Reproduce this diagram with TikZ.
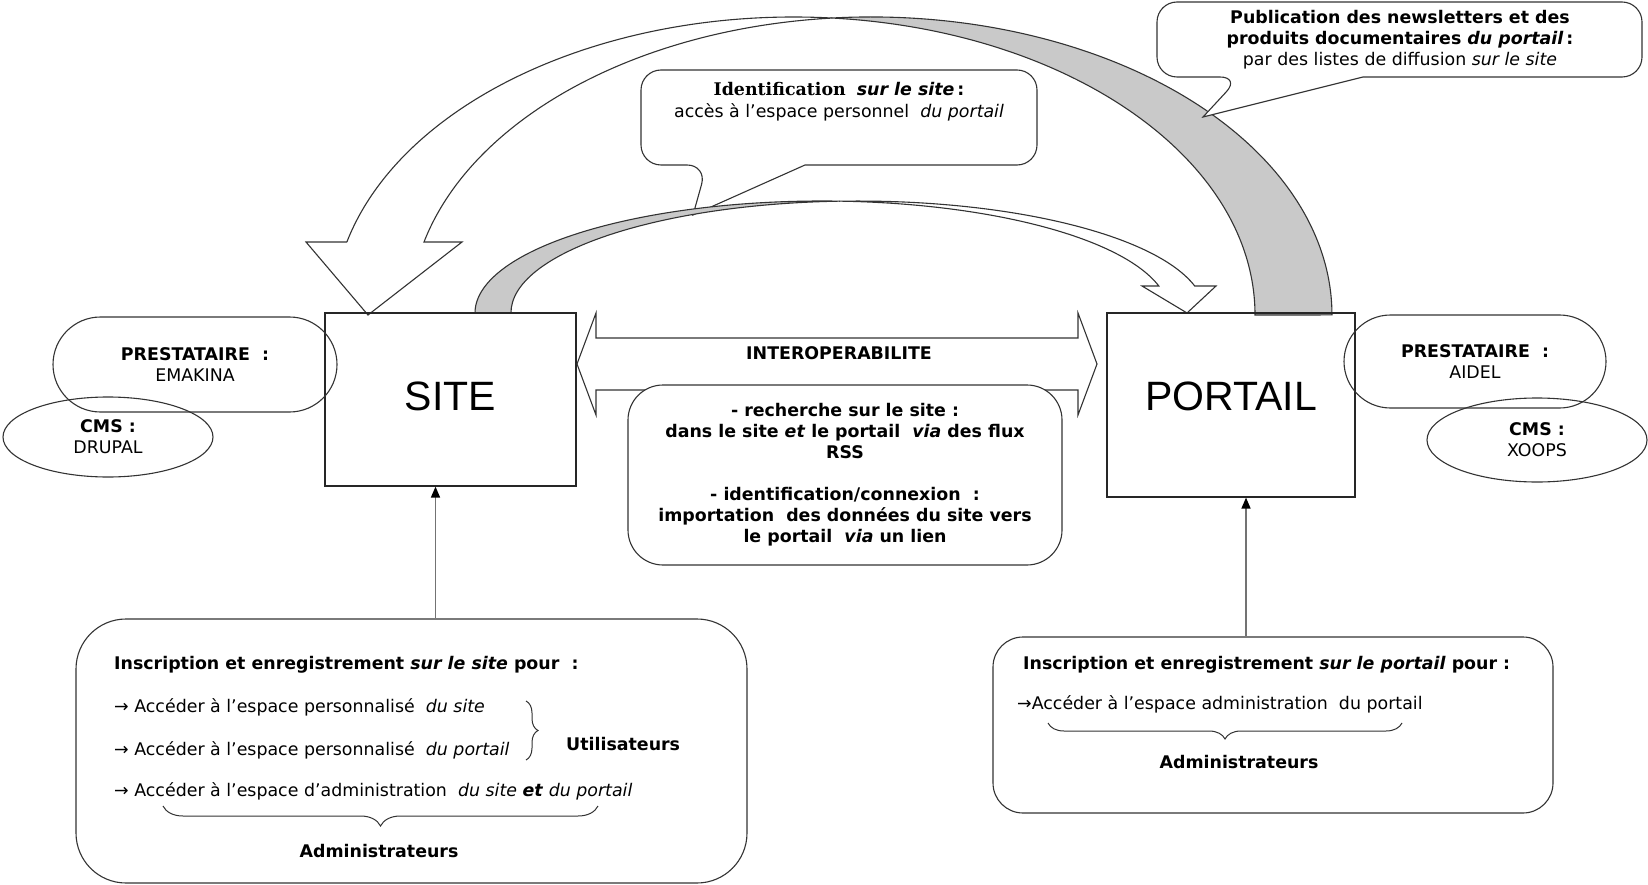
\documentclass[tikz,border=0pt]{standalone}
\usepackage{fontspec}
\setmainfont{DejaVu Sans}
\newfontfamily\arialfont{Liberation Sans}
\newfontfamily\seriffont{DejaVu Serif}
\usetikzlibrary{arrows.meta,shapes.misc,shapes.geometric,decorations.pathreplacing,calc}
\tikzset{
    every node/.style={inner sep=0pt},
    txt/.style={font=\fontsize{17.4}{21}\selectfont},
    btxt/.style={font=\fontsize{17.4}{21}\selectfont\bfseries},
    bigtxt/.style={font=\fontsize{41}{41}\selectfont\arialfont},
    box/.style={draw=black!85,line width=1.2pt},
    oval/.style={draw=black!80,line width=1.1pt,ellipse},
    pill/.style={draw=black!80,line width=1.1pt,rounded rectangle},
    infobox/.style={draw=black!80,line width=1.1pt,fill=white,rounded corners=#1},
    band/.style={draw=black!80,line width=1.1pt,fill=white},
    backband/.style={draw=black!80,line width=1.1pt,fill=black!21},
    callout/.style={draw=black!80,line width=1.1pt,fill=white},
    conn/.style={-{Triangle[length=11pt,width=9pt,color=black]},draw=black!55,line width=1.6pt},
    curly/.style={draw=black!80,line width=1pt,decorate,decoration={brace,amplitude=#1}},
}
\begin{document}
\begin{tikzpicture}[x=1pt,y=-1pt]
    \useasboundingbox (0,0) rectangle (1648,885);

    % big curved arrow: portail -> site
    \path[backband] (832.4,18) arc[start angle=94.8,end angle=0,x radius=461pt,y radius=298pt]
        -- (1255,315) arc[start angle=0,end angle=85.2,x radius=461pt,y radius=298pt] -- cycle;
    \path[band] (347,242) -- (306,242) -- (368,315) -- (462,242) -- (424,242)
        arc[start angle=165.82,end angle=94.8,x radius=461pt,y radius=298pt]
        arc[start angle=85.2,end angle=165.82,x radius=461pt,y radius=298pt] -- cycle;

    % callout over the small arrow
    \path[callout] (805,165) [rounded corners=20pt] -- (1037,165) -- (1037,70) -- (641,70) -- (641,165) -- (707,165)
        [sharp corners] -- (693,215) -- cycle;
    \node[txt,align=center,font=\fontsize{17.4}{22}\selectfont] (identtext) at (839,102)
        {{\seriffont\bfseries Identification}\ \ \textbf{\textit{sur le site}}\,\textbf{:}\\accès à l’espace personnel \ \textit{du portail}};

    % small curved arrow: site -> portail
    \path[backband] (475,313) arc[start angle=180,end angle=87.03,x radius=347pt,y radius=112pt]
        arc[start angle=92.97,end angle=180,x radius=347pt,y radius=112pt] -- cycle;
    \path[band] (840,201.2) arc[start angle=92.97,end angle=13.95,x radius=347pt,y radius=112pt]
        -- (1216,286) -- (1187,313) -- (1142,286) -- (1158.8,286)
        arc[start angle=13.95,end angle=87.03,x radius=347pt,y radius=112pt] -- cycle;

    % callout over the big arrow
    \path[callout] (1363,77) [rounded corners=20pt] -- (1642,77) -- (1642,2) -- (1157,2) -- (1157,77) -- (1240,77)
        [sharp corners] -- (1203,117) -- cycle;
    \node[txt,align=center] (pubtext) at (1400,40)
        {\textbf{Publication des newsletters et des}\\\textbf{produits documentaires \textit{du portail}\,:}\\par des listes de diffusion \textit{sur le site}};

    % main boxes
    \node[box,minimum width=251pt,minimum height=173pt] (site) at (450.5,399.5) {};
    \node[bigtxt] (sitelabel) at ([yshift=3pt]site.center) {SITE};
    \node[box,minimum width=248pt,minimum height=184pt] (portail) at (1231,405) {};
    \node[bigtxt] (portaillabel) at ([yshift=9pt]portail.center) {PORTAIL};

    % providers and cms
    \node[pill,txt,align=center,minimum width=284pt,minimum height=95pt] (prestsite) at (195,364.5)
        {\textbf{PRESTATAIRE\ \ :}\\EMAKINA};
    \node[oval,txt,align=center,minimum width=210pt,minimum height=80pt] (cmssite) at (108,437)
        {\textbf{CMS :}\\DRUPAL};
    \node[pill,txt,align=center,minimum width=262pt,minimum height=93pt] (prestportail) at (1475,361.5)
        {\textbf{PRESTATAIRE\ \ :}\\AIDEL};
    \node[oval,txt,align=center,minimum width=220pt,minimum height=84pt] (cmsportail) at (1537,440)
        {\textbf{CMS :}\\XOOPS};

    % interoperability
    \path[band] (577,364) -- (596,313) -- (596,338) -- (1078,338) -- (1078,313) -- (1097,364)
        -- (1078,415) -- (1078,390) -- (596,390) -- (596,415) -- cycle;
    \node[btxt] (interop) at (839,353) {INTEROPERABILITE};
    \node[infobox=35pt,btxt,align=center,minimum width=434pt,minimum height=180pt] (features) at (845,475)
        {- recherche sur le site :\\
         dans le site \textit{et} le portail \ \textit{via} des flux\\
         RSS\\[21pt]
         - identification/connexion \ :\\
         importation \ des données du site vers\\
         le portail \ \textit{via} un lien};

    % registration on the site
    \node[infobox=50pt,minimum width=671pt,minimum height=264pt] (regsite) at (411.5,751) {};
    \node[btxt,anchor=west] (regsitetitle) at (114,665) {Inscription et enregistrement \textit{sur le site} pour \ :};
    \node[txt,anchor=west] (acc1) at (114,707) {→ Accéder à l’espace personnalisé \ \textit{du site}};
    \node[txt,anchor=west] (acc2) at (114,750) {→ Accéder à l’espace personnalisé \ \textit{du portail}};
    \node[txt,anchor=west] (acc3) at (114,791) {→ Accéder à l’espace d’administration \ \textit{du site} \textbf{\textit{et}} \textit{du portail}};
    \draw[curly=12pt] (526,701) -- (526,760);
    \node[btxt,anchor=west] (users) at (566,744) {Utilisateurs};
    \draw[curly=20pt] (598,806) -- (163,806);
    \node[btxt] (admins1) at (379,851) {Administrateurs};

    % registration on the portal
    \node[infobox=30pt,minimum width=560pt,minimum height=176pt] (regportail) at (1273,725) {};
    \node[btxt,anchor=west] (regportailtitle) at (1023,665) {Inscription et enregistrement \textit{sur le portail} pour :};
    \node[txt,anchor=west] (acc4) at (1017,704) {→Accéder à l’espace administration \ du portail};
    \draw[curly=16pt] (1402,723) -- (1048,723);
    \node[btxt] (admins2) at (1239,762) {Administrateurs};

    % links to the boxes
    \draw[conn] ([xshift=-15pt]site.south |- regsite.north) -- ([xshift=-15pt]site.south);
    \draw[conn] ([xshift=15pt]portail.south |- regportail.north) -- ([xshift=15pt]portail.south);
\end{tikzpicture}
\end{document}
